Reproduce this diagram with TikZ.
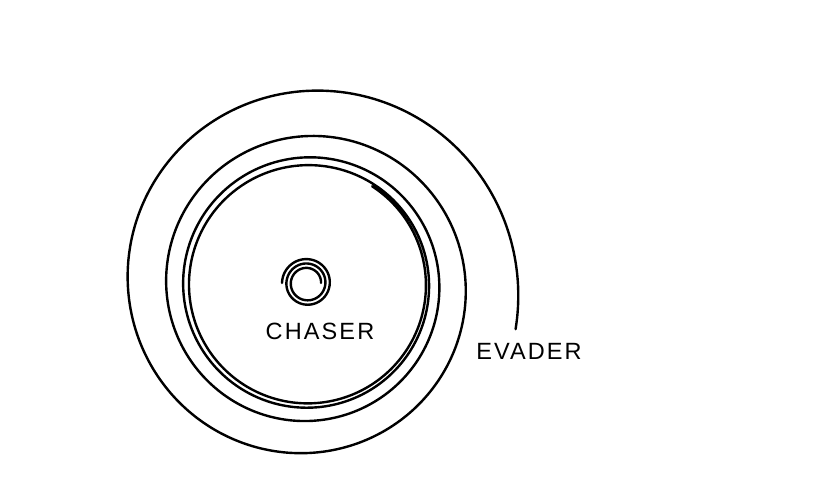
\documentclass[tikz,border=0pt]{standalone}
\usepackage{fontspec}
\setmainfont{Liberation Sans}[LetterSpace=9]
\usetikzlibrary{calc}

\begin{document}
\begin{tikzpicture}[x=1pt, y=1pt, line cap=round, line join=round,
  path/.style={line width=2.4pt},
  label/.style={inner sep=0pt, font=\fontsize{23.5}{24}\selectfont},
  declare function={revade(\t)=117+93*exp(-\t/500-(\t/1100)^2);
                    rchase(\t)=14+11*\t/900;}]
  \useasboundingbox (0,0) rectangle (824,-488);

  % centres of the two spirals
  \coordinate (O) at (308,-285);
  \coordinate (P) at (307,-283);

  % evader: spirals in towards the limit circle
  \draw[path] plot[domain=-12:1497, samples=500, smooth]
    ({308+revade(\x)*cos(\x)}, {-285+revade(\x)*sin(\x)});

  % chaser: small spiral out from the centre
  \draw[path] plot[domain=0:900, samples=200, smooth]
    ({307+rchase(\x)*cos(\x)}, {-283+rchase(\x)*sin(\x)});

  % labels
  \node[label] (chaser) at (320,-331) {CHASER};
  \node[label] (evader) at (529,-351) {EVADER};
\end{tikzpicture}
\end{document}
